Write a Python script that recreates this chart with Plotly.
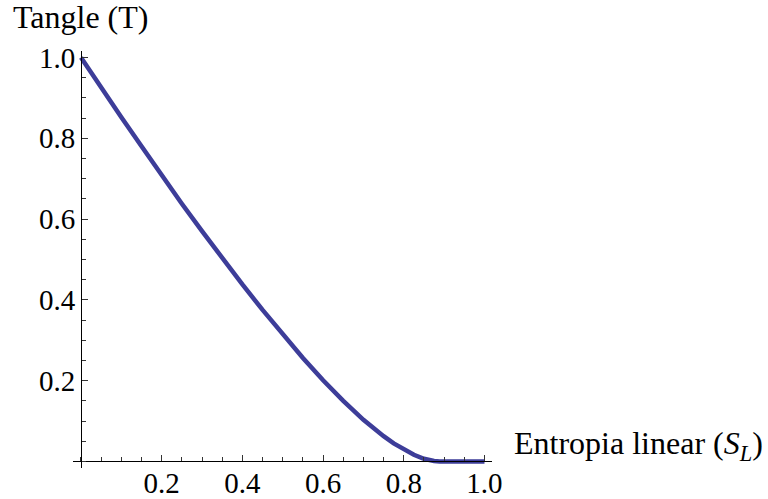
import plotly.graph_objects as go

# Data
entropia = [0.0, 0.05, 0.10, 0.15, 0.20, 0.25, 0.30, 0.35, 0.40, 0.45, 0.50,
            0.55, 0.60, 0.65, 0.70, 0.725, 0.75, 0.775, 0.80, 0.825, 0.85,
            0.865, 0.875, 0.889, 0.90, 0.95, 1.0]
tangle = [1.0, 0.925, 0.852, 0.780, 0.708, 0.638, 0.570, 0.503, 0.438, 0.375, 0.314,
          0.256, 0.201, 0.150, 0.103, 0.082, 0.0625, 0.0447, 0.0292, 0.0163, 0.0066,
          0.0026, 0.0009, 0.0, 0.0, 0.0, 0.0]

x_ticks = [0.2, 0.4, 0.6, 0.8, 1.0]
x_ticktext = ["0.2", "0.4", "0.6", "0.8", "1.0"]
y_ticks = [0.2, 0.4, 0.6, 0.8, 1.0]
y_ticktext = ["0.2", "0.4", "0.6", "0.8", "1.0"]

FONT = "Liberation Serif"

xmin, xmax = -0.0198, 1.0186
ymin, ymax = -0.0163, 1.0159

fig = go.Figure()
fig.add_trace(go.Scatter(x=entropia, y=tangle, mode="lines",
                         line=dict(color="#3D3D99", width=4.5), showlegend=False,
                         cliponaxis=False))

fig.update_layout(
    template="none",
    width=768, height=499,
    margin=dict(l=73, r=276, t=51, b=31, autoexpand=False),
    paper_bgcolor="white", plot_bgcolor="white",
    font=dict(family=FONT, size=29, color="black"),
    xaxis=dict(range=[xmin, xmax], showgrid=False, zeroline=False, automargin=False,
               anchor="free", position=(0 - ymin) / (ymax - ymin),
               showline=True, linecolor="black", linewidth=1,
               tickmode="array", tickvals=x_ticks, ticktext=x_ticktext,
               ticks="inside", ticklen=6, tickwidth=1, tickcolor="#333",
               ticklabelstandoff=-4,
               minor=dict(dtick=0.05, tick0=0, ticks="inside", ticklen=4,
                          tickwidth=1, tickcolor="#333", showgrid=False),
               tickfont=dict(family=FONT, size=29, color="black")),
    yaxis=dict(range=[ymin, ymax], showgrid=False, zeroline=False, automargin=False,
               anchor="free", position=(0 - xmin) / (xmax - xmin),
               showline=True, linecolor="black", linewidth=1,
               tickmode="array", tickvals=y_ticks, ticktext=y_ticktext,
               ticks="inside", ticklen=6, tickwidth=1, tickcolor="#333",
               minor=dict(dtick=0.05, tick0=0, ticks="inside", ticklen=4,
                          tickwidth=1, tickcolor="#333", showgrid=False),
               tickfont=dict(family=FONT, size=29, color="black")),
)

fig.add_annotation(text="Tangle (T)", xref="paper", yref="paper",
                   x=(11 - 73) / 419, y=(468 - 17) / 417,
                   xanchor="left", yanchor="middle", showarrow=False,
                   font=dict(family=FONT, size=32, color="black"))
fig.add_annotation(text="Entropia linear (<i>S</i><sub><i>L</i></sub>)",
                   xref="paper", yref="paper",
                   x=(512 - 73) / 419, y=(468 - 445) / 417,
                   xanchor="left", yanchor="middle", showarrow=False,
                   font=dict(family=FONT, size=32, color="black"))

fig.write_html("out.html", config={"displayModeBar": False},
               post_script="document.body.style.margin='0';document.body.style.overflow='hidden';")
